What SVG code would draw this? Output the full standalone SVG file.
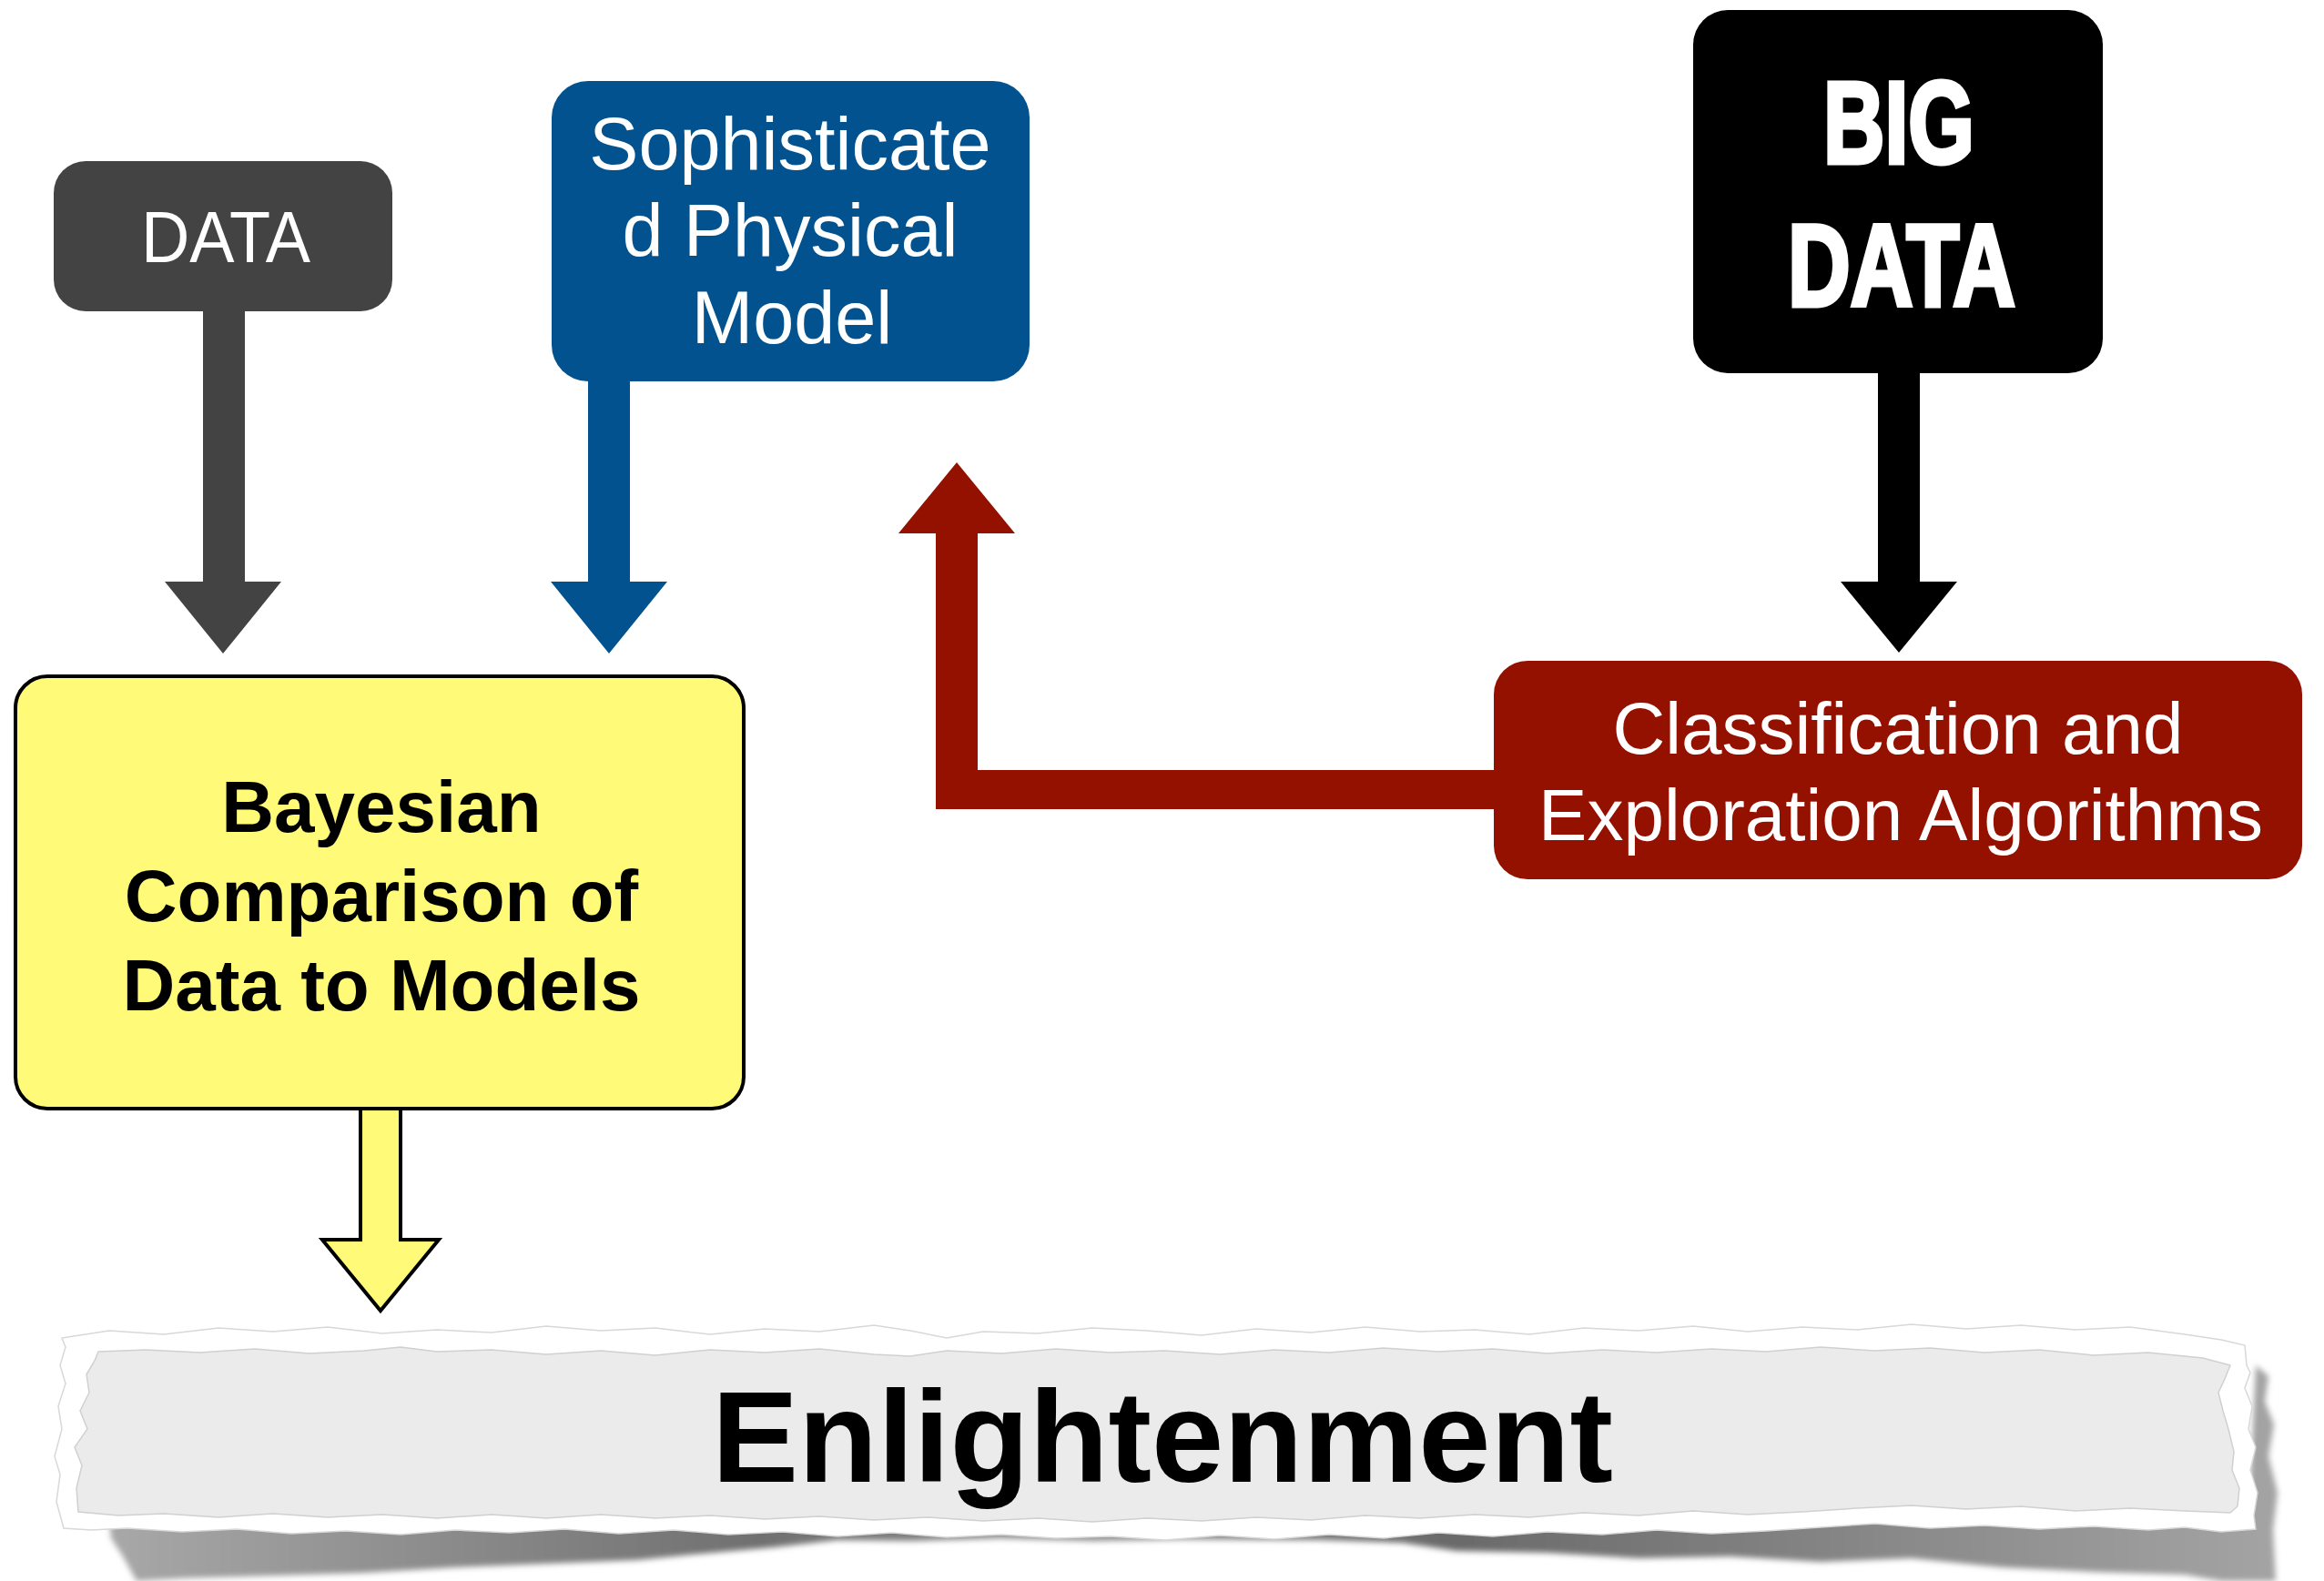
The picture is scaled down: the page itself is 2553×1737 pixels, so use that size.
<svg xmlns="http://www.w3.org/2000/svg" width="2553" height="1737" viewBox="0 0 2553 1737">
<style>
  .lbl { font-family: "Liberation Sans", Arial, sans-serif; fill: #ffffff; text-anchor: middle; }
  .bold { font-family: "Liberation Sans", Arial, sans-serif; font-weight: bold; fill: #000000; text-anchor: middle; }
  .big { font-family: "Liberation Sans", Arial, sans-serif; font-weight: bold; fill: #ffffff; stroke: #ffffff; stroke-width: 5px; stroke-linejoin: miter; text-anchor: middle; font-size: 128px; }
</style>
<defs>
  <filter id="blur" x="-5%" y="-50%" width="110%" height="200%">
    <feGaussianBlur stdDeviation="3"/>
  </filter>
  <linearGradient id="shadowGrad" x1="0" y1="0" x2="1" y2="0">
    <stop offset="0" stop-color="#a8a8a8"/>
    <stop offset="0.3" stop-color="#707070"/>
    <stop offset="0.45" stop-color="#909090"/>
    <stop offset="0.62" stop-color="#6a6a6a"/>
    <stop offset="1" stop-color="#a4a4a4"/>
  </linearGradient>
</defs>
<rect x="0" y="0" width="2553" height="1737" fill="#ffffff"/>

<g id="enlightenment">
  <path filter="url(#blur)" fill="url(#shadowGrad)" d="M120,1670 L2470,1670 L2478,1500 L2492,1512 L2488,1540 L2498,1565 L2492,1600 L2502,1640 L2497,1680 L2500,1737 L2440,1737 L2400,1730 L2300,1727 L2200,1722 L2100,1712 L2000,1716 L1900,1710 L1800,1712 L1700,1706 L1600,1704 L1540,1695 L1450,1692 L1300,1691 L1200,1693 L1100,1690 L1000,1693 L920,1692 L850,1700 L760,1708 L700,1714 L600,1718 L500,1722 L400,1728 L300,1731 L200,1734 L150,1737 L135,1710 L122,1690 Z"/>
  <path fill="#ffffff" stroke="#d8d8d8" stroke-width="1.5" d="M68,1470 L120,1462 L180,1466 L240,1459 L300,1463 L360,1458 L420,1465 L480,1461 L540,1464 L600,1457 L660,1462 L720,1459 L780,1466 L840,1460 L900,1463 L960,1456 L1000,1462 L1040,1470 L1080,1463 L1140,1465 L1200,1459 L1260,1462 L1320,1467 L1380,1460 L1440,1464 L1500,1458 L1560,1463 L1620,1461 L1680,1466 L1740,1459 L1800,1462 L1860,1457 L1920,1463 L1980,1458 L2040,1461 L2100,1455 L2160,1460 L2220,1456 L2280,1461 L2340,1458 L2400,1466 L2440,1472 L2466,1478 L2468,1500 L2472,1508 L2466,1525 L2474,1545 L2470,1570 L2478,1590 L2472,1615 L2480,1640 L2476,1665 L2478,1680 L2440,1683 L2400,1678 L2360,1681 L2300,1677 L2240,1680 L2180,1676 L2120,1679 L2060,1674 L2000,1678 L1940,1682 L1880,1685 L1820,1681 L1760,1686 L1700,1683 L1640,1688 L1580,1684 L1520,1690 L1460,1686 L1400,1691 L1340,1687 L1280,1692 L1220,1688 L1160,1690 L1100,1686 L1040,1689 L980,1684 L920,1688 L860,1683 L800,1686 L740,1681 L680,1685 L620,1680 L560,1684 L500,1681 L440,1686 L380,1682 L320,1685 L260,1680 L200,1683 L140,1679 L100,1681 L70,1679 L62,1650 L66,1620 L60,1600 L68,1570 L64,1545 L72,1520 L66,1500 L72,1480 Z"/>
  <path fill="#ebebeb" stroke="#d0d0d0" stroke-width="1.5" d="M108,1485 L160,1483 L220,1486 L280,1482 L340,1487 L400,1484 L440,1480 L480,1485 L540,1483 L600,1488 L660,1484 L720,1489 L780,1483 L840,1486 L900,1482 L960,1488 L1000,1490 L1040,1484 L1100,1487 L1160,1482 L1220,1486 L1280,1484 L1340,1488 L1400,1483 L1460,1486 L1520,1481 L1580,1485 L1640,1482 L1700,1487 L1760,1483 L1820,1486 L1880,1482 L1940,1485 L2000,1480 L2060,1484 L2120,1481 L2180,1486 L2240,1483 L2300,1489 L2360,1486 L2420,1492 L2450,1500 L2444,1515 L2437,1530 L2442,1550 L2448,1570 L2454,1595 L2452,1615 L2460,1635 L2458,1655 L2450,1662 L2400,1660 L2340,1657 L2280,1660 L2220,1655 L2160,1658 L2100,1654 L2040,1657 L1980,1661 L1920,1664 L1860,1660 L1800,1665 L1740,1662 L1680,1667 L1620,1664 L1560,1668 L1500,1665 L1440,1670 L1380,1667 L1320,1671 L1260,1668 L1200,1672 L1140,1668 L1080,1671 L1020,1667 L960,1670 L900,1666 L840,1669 L780,1665 L720,1668 L660,1664 L600,1668 L540,1664 L480,1668 L420,1664 L360,1667 L300,1663 L240,1667 L180,1663 L130,1665 L86,1661 L84,1635 L90,1610 L82,1590 L96,1570 L88,1550 L98,1530 L95,1510 L104,1495 Z"/>
  <text class="bold" x="1277" y="1628" font-size="142" textLength="990" lengthAdjust="spacingAndGlyphs">Enlightenment</text>
</g>

<g id="connectors">
  <polygon fill="#434343" points="223,340 269,340 269,639 309,639 245,718 181,639 223,639"/>
  <polygon fill="#02528f" points="646,417 692,417 692,639 733,639 669,718 605,639 646,639"/>
  <polygon fill="#000000" points="2063,408 2109,408 2109,639 2150,639 2086,717 2022,639 2063,639"/>
  <polygon fill="#941100" points="1645,846 1074,846 1074,586 1115,586 1051,508 987,586 1028,586 1028,889 1645,889"/>
  <polygon fill="#fffb79" stroke="#000000" stroke-width="4" stroke-linejoin="miter" points="396,1215 440,1215 440,1362 482,1362 418,1440 354,1362 396,1362"/>
</g>

<g id="node-data">
  <rect x="59" y="177" width="372" height="165" rx="35" ry="35" fill="#434343"/>
  <text class="lbl" x="248" y="288" font-size="80" textLength="186" lengthAdjust="spacingAndGlyphs">DATA</text>
</g>

<g id="node-model">
  <rect x="606" y="89" width="525" height="330" rx="40" ry="40" fill="#02528f"/>
  <text class="lbl" x="868" y="186" font-size="81">Sophisticate</text>
  <text class="lbl" x="868" y="281" font-size="81">d Physical</text>
  <text class="lbl" x="870" y="377" font-size="81">Model</text>
</g>

<g id="node-bigdata">
  <rect x="1860" y="11" width="450" height="399" rx="38" ry="38" fill="#000000"/>
  <text class="big" x="2086" y="179" textLength="166" lengthAdjust="spacingAndGlyphs">BIG</text>
  <text class="big" x="2089" y="336" textLength="250" lengthAdjust="spacingAndGlyphs">DATA</text>
</g>

<g id="node-algorithms">
  <rect x="1641" y="726" width="888" height="240" rx="37" ry="37" fill="#941100"/>
  <text class="lbl" x="2085" y="828" font-size="80">Classification and</text>
  <text class="lbl" x="2088" y="923" font-size="80">Exploration Algorithms</text>
</g>

<g id="node-bayesian">
  <rect x="17" y="743" width="800" height="475" rx="35" ry="35" fill="#fffb79" stroke="#000000" stroke-width="4"/>
  <text class="bold" x="419" y="914" font-size="80">Bayesian</text>
  <text class="bold" x="419" y="1012" font-size="80">Comparison of</text>
  <text class="bold" x="419" y="1110" font-size="80">Data to Models</text>
</g>
</svg>
